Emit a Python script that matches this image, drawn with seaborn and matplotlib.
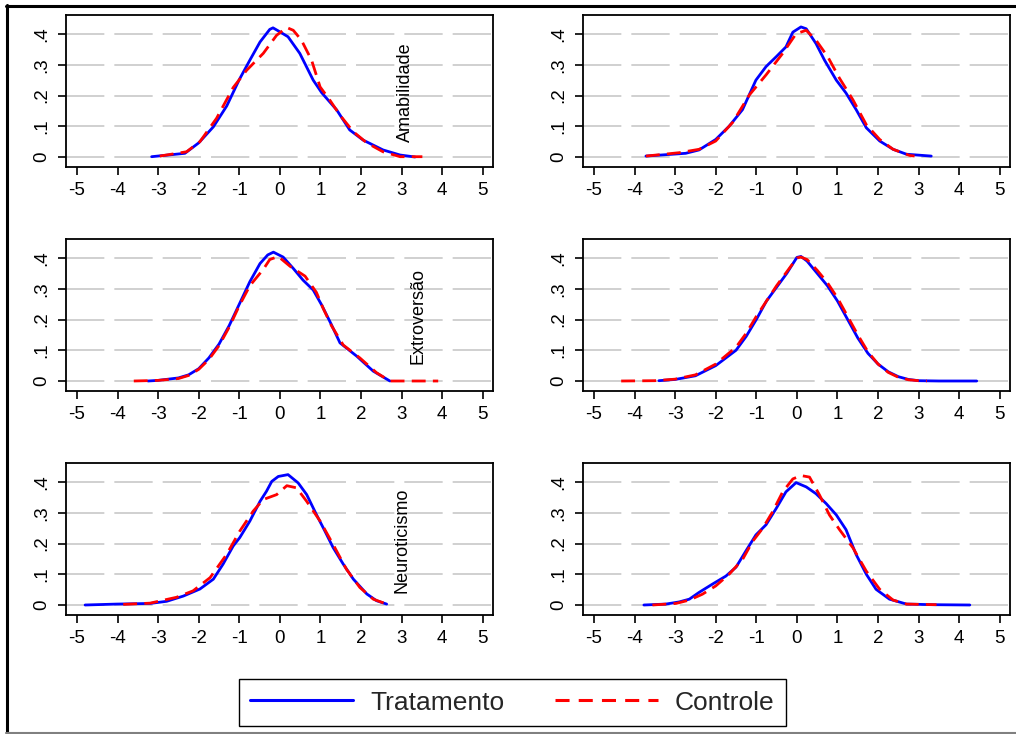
import matplotlib
matplotlib.use("Agg")
import matplotlib.pyplot as plt
import seaborn as sns
from matplotlib.lines import Line2D

sns.set_style("white")
plt.rcParams['font.family'] = ['Liberation Sans', 'DejaVu Sans']

# ---------------- data ----------------
series_names = ["Tratamento", "Controle"]
panel_labels = ["Amabilidade", "", "Extroversão", "", "Neuroticismo", ""]
label_x = [3.1, None, 3.39, None, 3.02, None]
x_ticks = [-5, -4, -3, -2, -1, 0, 1, 2, 3, 4, 5]
x_tick_labels = ["-5", "-4", "-3", "-2", "-1", "0", "1", "2", "3", "4", "5"]
y_ticks = [0, 0.1, 0.2, 0.3, 0.4]
y_tick_labels = ["0", ".1", ".2", ".3", ".4"]

# Panel 1 - Amabilidade
p1_tx = [-3.16, -2.34, -2.0, -1.64, -1.31, -1.0, -0.74, -0.49, -0.25, -0.17, 0.0, 0.2, 0.49, 0.82, 1.03, 1.4, 1.72, 2.05, 2.54, 2.96, 3.33]
p1_ty = [0.001, 0.012, 0.046, 0.098, 0.166, 0.252, 0.315, 0.374, 0.415, 0.42, 0.407, 0.391, 0.337, 0.25, 0.209, 0.153, 0.088, 0.055, 0.023, 0.0065, 0.0]
p1_cx = [-2.96, -2.3, -1.97, -1.56, -1.15, -0.82, -0.41, -0.08, 0.17, 0.33, 0.53, 0.78, 0.99, 1.23, 1.48, 1.81, 2.14, 2.54, 2.96, 3.51]
p1_cy = [0.003, 0.017, 0.05, 0.126, 0.226, 0.282, 0.337, 0.396, 0.421, 0.412, 0.38, 0.315, 0.228, 0.185, 0.136, 0.082, 0.046, 0.017, 0.001, 0.001]

# Panel 2
p2_tx = [-3.72, -3.07, -2.74, -2.41, -2.0, -1.67, -1.34, -1.01, -0.76, -0.51, -0.27, -0.1, 0.1, 0.23, 0.47, 0.68, 0.97, 1.21, 1.46, 1.71, 2.04, 2.37, 2.7, 3.31]
p2_ty = [0.003, 0.009, 0.012, 0.023, 0.057, 0.1, 0.154, 0.25, 0.294, 0.326, 0.358, 0.406, 0.423, 0.417, 0.369, 0.315, 0.25, 0.208, 0.154, 0.095, 0.052, 0.025, 0.009, 0.003]
p2_cx = [-3.72, -2.9, -2.41, -2.0, -1.58, -1.17, -0.76, -0.35, -0.02, 0.23, 0.47, 0.76, 1.05, 1.38, 1.71, 2.04, 2.37, 2.78, 2.9]
p2_cy = [0.003, 0.014, 0.025, 0.052, 0.113, 0.202, 0.267, 0.337, 0.401, 0.412, 0.38, 0.326, 0.256, 0.186, 0.105, 0.057, 0.025, 0.005, 0.003]

# Panel 3 - Extroversão
p3_tx = [-3.25, -3.0, -2.5, -2.25, -2.0, -1.75, -1.5, -1.25, -1.0, -0.74, -0.49, -0.3, -0.16, 0.08, 0.33, 0.57, 0.82, 1.03, 1.27, 1.48, 1.89, 2.3, 2.71]
p3_ty = [0.0, 0.002, 0.01, 0.02, 0.04, 0.075, 0.12, 0.18, 0.25, 0.323, 0.382, 0.41, 0.419, 0.403, 0.366, 0.328, 0.296, 0.247, 0.183, 0.124, 0.081, 0.032, 0.0]
p3_cx = [-3.6, -3.0, -2.5, -2.25, -2.0, -1.75, -1.5, -1.25, -1.0, -0.74, -0.41, -0.25, -0.04, 0.25, 0.62, 0.9, 1.07, 1.27, 1.56, 1.97, 2.38, 2.71, 3.9]
p3_cy = [0.0, 0.002, 0.008, 0.018, 0.038, 0.07, 0.115, 0.175, 0.245, 0.31, 0.363, 0.395, 0.405, 0.373, 0.341, 0.288, 0.235, 0.18, 0.117, 0.075, 0.027, 0.0, 0.0]

# Panel 4
p4_tx = [-3.4, -3.0, -2.5, -2.0, -1.5, -1.25, -1.0, -0.75, -0.5, -0.25, 0.0, 0.1, 0.25, 0.5, 0.75, 1.0, 1.25, 1.5, 1.75, 2.0, 2.25, 2.5, 2.75, 3.0, 3.5, 4.43]
p4_ty = [0.001, 0.005, 0.017, 0.05, 0.1, 0.145, 0.2, 0.26, 0.305, 0.35, 0.402, 0.405, 0.39, 0.35, 0.31, 0.26, 0.2, 0.14, 0.09, 0.055, 0.03, 0.014, 0.005, 0.001, 0.0, 0.0]
p4_cx = [-4.33, -3.5, -3.0, -2.5, -2.0, -1.5, -1.25, -1.0, -0.75, -0.5, -0.25, 0.0, 0.1, 0.25, 0.5, 0.75, 1.0, 1.25, 1.5, 1.75, 2.0, 2.25, 2.5, 2.75, 3.0, 3.2]
p4_cy = [0.0, 0.001, 0.006, 0.02, 0.055, 0.11, 0.155, 0.21, 0.26, 0.31, 0.355, 0.4, 0.403, 0.395, 0.36, 0.32, 0.27, 0.21, 0.15, 0.095, 0.055, 0.028, 0.012, 0.004, 0.001, 0.0]

# Panel 5 - Neuroticismo
p5_tx = [-4.8, -4.02, -3.2, -2.79, -2.38, -1.97, -1.64, -1.4, -1.15, -0.99, -0.74, -0.49, -0.33, -0.2, -0.04, 0.2, 0.45, 0.66, 0.9, 1.11, 1.31, 1.56, 1.81, 2.14, 2.38, 2.63]
p5_ty = [0.0, 0.003, 0.005, 0.012, 0.029, 0.052, 0.084, 0.133, 0.192, 0.219, 0.273, 0.337, 0.37, 0.402, 0.418, 0.424, 0.397, 0.359, 0.294, 0.24, 0.187, 0.133, 0.084, 0.036, 0.014, 0.003]
p5_cx = [-3.86, -3.2, -2.55, -2.14, -1.72, -1.31, -0.99, -0.66, -0.41, -0.08, 0.17, 0.41, 0.66, 0.99, 1.31, 1.64, 1.97, 2.3, 2.63]
p5_cy = [0.002, 0.006, 0.025, 0.046, 0.089, 0.165, 0.24, 0.305, 0.343, 0.359, 0.388, 0.381, 0.337, 0.273, 0.197, 0.116, 0.057, 0.019, 0.003]

# Panel 6
p6_tx = [-3.77, -3.23, -2.9, -2.65, -2.41, -2.08, -1.75, -1.5, -1.26, -1.01, -0.76, -0.51, -0.27, -0.02, 0.23, 0.47, 0.72, 0.97, 1.21, 1.46, 1.71, 1.95, 2.28, 2.7, 3.35, 4.26]
p6_ty = [0.0, 0.003, 0.01, 0.019, 0.041, 0.068, 0.094, 0.123, 0.175, 0.228, 0.261, 0.314, 0.368, 0.398, 0.384, 0.362, 0.33, 0.293, 0.245, 0.164, 0.1, 0.051, 0.019, 0.003, 0.001, 0.0]
p6_cx = [-3.56, -2.98, -2.65, -2.33, -2.0, -1.67, -1.34, -1.09, -0.84, -0.6, -0.35, -0.1, 0.1, 0.31, 0.56, 0.8, 1.05, 1.38, 1.71, 2.04, 2.37, 2.7, 3.44]
p6_cy = [0.0, 0.005, 0.016, 0.035, 0.062, 0.1, 0.148, 0.207, 0.25, 0.303, 0.368, 0.41, 0.421, 0.416, 0.357, 0.293, 0.245, 0.186, 0.11, 0.051, 0.016, 0.003, 0.001]

panels = [
    (p1_tx, p1_ty, p1_cx, p1_cy),
    (p2_tx, p2_ty, p2_cx, p2_cy),
    (p3_tx, p3_ty, p3_cx, p3_cy),
    (p4_tx, p4_ty, p4_cx, p4_cy),
    (p5_tx, p5_ty, p5_cx, p5_cy),
    (p6_tx, p6_ty, p6_cx, p6_cy),
]

BLUE = "#0000ff"
RED = "#ff0000"
RED_DASH = (0, (5, 2.6))

# ---------------- layout ----------------
W, H = 1016, 734
fig = plt.figure(figsize=(W / 100, H / 100), dpi=100)
fig.patch.set_facecolor("white")

row_tops = [15, 239, 463]
col_lefts = [66, 583]
AX_W, AX_H = 427, 152
ZERO_OFF = 142      # px from top of axes to y=0
PX_PER_UNIT = 307.5

for i, (tx, ty, cx, cy) in enumerate(panels):
    r, c = divmod(i, 2)
    left, top = col_lefts[c], row_tops[r]
    ax = fig.add_axes([left / W, 1 - (top + AX_H) / H, AX_W / W, AX_H / H])
    ax.set_facecolor("white")

    sns.lineplot(x=tx, y=ty, ax=ax, color=BLUE, linewidth=2.0,
                 sort=False, estimator=None, zorder=3)
    sns.lineplot(x=cx, y=cy, ax=ax, color=RED, linewidth=2.0,
                 sort=False, estimator=None, linestyle=RED_DASH, zorder=4)

    ax.set_xlim(-5.27, 5.25)
    ax.set_ylim(-(AX_H - ZERO_OFF) / PX_PER_UNIT, ZERO_OFF / PX_PER_UNIT)
    ax.set_xticks(x_ticks)
    ax.set_xticklabels(x_tick_labels)
    ax.set_yticks(y_ticks)
    ax.set_yticklabels(y_tick_labels, rotation=90, va="center")
    ax.set_xlabel("")
    ax.set_ylabel("")

    ax.yaxis.grid(True, color="#c8c8c8", linestyle=(0, (23, 6)), linewidth=1.2)
    ax.xaxis.grid(False)
    ax.set_axisbelow(True)

    for s in ax.spines.values():
        s.set_color("black")
        s.set_linewidth(1.3)
        s.set_visible(True)

    ax.tick_params(axis="both", direction="out", length=6, width=1.2,
                   color="black", labelsize=13.5, labelcolor="black",
                   left=True, bottom=True)
    ax.tick_params(axis="y", pad=5)
    ax.tick_params(axis="x", pad=5)

    if panel_labels[i]:
        ax.text(label_x[i], 0.21, panel_labels[i], rotation=90,
                ha="center", va="center", fontsize=13, color="black")

# ---------------- legend ----------------
handles = [Line2D([], [], color=BLUE, linewidth=2.2),
           Line2D([], [], color=RED, linewidth=2.2, linestyle=(0, (4.6, 3.0)))]
leg = fig.legend(handles=handles, labels=series_names, loc="center",
                 bbox_to_anchor=(512.5 / W, 1 - 702.5 / H), ncol=2,
                 fontsize=19, frameon=True, fancybox=False, shadow=False,
                 edgecolor="black", framealpha=1, handlelength=3.9,
                 handletextpad=0.65, columnspacing=1.9, borderpad=0.45,
                 borderaxespad=0)
leg.get_frame().set_linewidth(1.0)

# ---------------- outer frame ----------------
fig.add_artist(Line2D([7 / W, 7 / W], [1 - 5 / H, 1 - 733 / H],
                      transform=fig.transFigure, color="black", linewidth=2.2))
fig.add_artist(Line2D([6 / W, 1.0], [1 - 5.5 / H, 1 - 5.5 / H],
                      transform=fig.transFigure, color="black", linewidth=2.2))
fig.add_artist(Line2D([6 / W, 1.0], [1 - 732.5 / H, 1 - 732.5 / H],
                      transform=fig.transFigure, color="#808080", linewidth=1.5))

fig.savefig("out.png", dpi=100, facecolor="white")
